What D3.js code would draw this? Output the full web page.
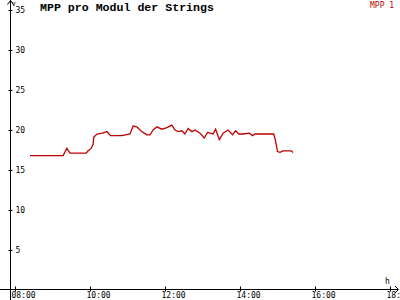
<!DOCTYPE html>
<html>
<head>
<meta charset="utf-8">
<script src="https://cdn.jsdelivr.net/npm/d3@7"></script>
<style>
  body { margin: 0; background: #fff; }
  text { font-family: "DejaVu Sans Mono", monospace; }
</style>
</head>
<body>
<div id="chart"></div>
<script>
// data
var times = ["08:24","09:17","09:23","09:28","09:54","09:57","10:02","10:05","10:06","10:11",
  "10:20","10:27","10:33","10:51","11:04","11:09","11:15","11:20","11:25","11:31",
  "11:36","11:41","11:47","11:55","12:03","12:11","12:16","12:21","12:27","12:32",
  "12:37","12:43","12:48","12:56","13:03","13:08","13:17","13:21","13:27","13:33",
  "13:41","13:48","13:53","13:58","14:05","14:15","14:20","14:24","14:54","14:57",
  "15:00","15:04","15:09","15:22","15:25"];
var mpp1 = [16.8,16.8,17.7,17.1,17.1,17.4,17.7,18.2,19.1,19.5,
  19.6,19.8,19.3,19.3,19.5,20.5,20.4,20.0,19.7,19.4,
  19.4,20.0,20.4,20.1,20.3,20.6,20.0,19.8,19.9,19.5,
  20.2,19.8,20.0,19.6,19.0,19.7,19.5,20.1,18.8,19.6,
  20.0,19.4,19.9,19.5,19.5,19.6,19.3,19.5,19.5,18.6,
  17.3,17.2,17.4,17.4,17.2];
var yTicks = [5, 10, 15, 20, 25, 30, 35];
var xTicks = ["08:00","10:00","12:00","14:00","16:00","18:00"];
var title = "MPP pro Modul der Strings";
var seriesName = "MPP 1";

var width = 400, height = 300;
var parse = d3.timeParse("%H:%M");

var svg = d3.select("#chart")
  .append("svg")
    .attr("width", width)
    .attr("height", height);

var x = d3.scaleTime()
  .domain([parse("08:00"), parse("18:00")])
  .range([15, 390]);

var y = d3.scaleLinear()
  .domain([0, 35])
  .range([290, 10]);

// axis lines with arrows
svg.append("line")
  .attr("x1", 10.5).attr("x2", 10.5)
  .attr("y1", 0).attr("y2", height)
  .attr("stroke", "#000");
svg.append("path")
  .attr("d", "M7.5,4.5L10.5,0.5L13.5,4.5")
  .attr("fill", "none").attr("stroke", "#000");
svg.append("line")
  .attr("x1", 0).attr("x2", 398)
  .attr("y1", y(0) - 0.5).attr("y2", y(0) - 0.5)
  .attr("stroke", "#000");
svg.append("path")
  .attr("d", "M395,286L398.5,289.5L395,293")
  .attr("fill", "none").attr("stroke", "#000");

// y axis
var gy = svg.append("g")
  .attr("transform", "translate(10.5,0)")
  .call(d3.axisRight(y).tickValues(yTicks).tickSize(2).tickPadding(3));
gy.select(".domain").remove();
gy.selectAll(".tick line").attr("x1", -2).attr("stroke", "#000");
gy.selectAll(".tick text")
  .attr("font-family", "DejaVu Sans Mono")
  .attr("font-size", 8)
  .attr("fill", "#000");

// x axis
var gx = svg.append("g")
  .attr("transform", "translate(0," + (y(0) - 0.5) + ")")
  .call(d3.axisBottom(x)
    .tickValues(xTicks.map(parse))
    .tickFormat(d3.timeFormat("%H:%M"))
    .tickSize(2).tickPadding(1));
gx.select(".domain").remove();
gx.selectAll(".tick line").attr("y1", -3).attr("stroke", "#000");
gx.selectAll(".tick text")
  .attr("font-family", "DejaVu Sans Mono")
  .attr("font-size", 8)
  .attr("text-anchor", "start")
  .attr("x", -4)
  .attr("fill", "#000");

// unit labels
svg.append("text")
  .attr("x", 12).attr("y", 6)
  .attr("font-size", 6)
  .text("V");
svg.append("text")
  .attr("x", 385).attr("y", 284)
  .attr("font-size", 8)
  .text("h");

// title and legend
svg.append("text")
  .attr("x", 40).attr("y", 11)
  .style("font-family", "Liberation Mono")
  .attr("font-weight", "bold")
  .attr("font-size", 11.6)
  .text(title);
svg.append("text")
  .attr("x", 370).attr("y", 8)
  .attr("font-size", 8)
  .attr("fill", "#c00000")
  .text(seriesName);

// the line
var line = d3.line()
  .x(function (d, i) { return x(parse(times[i])); })
  .y(function (d) { return y(d); });

svg.append("path")
  .datum(mpp1)
  .attr("fill", "none")
  .attr("stroke", "#c00000")
  .attr("stroke-width", 1.3)
  .attr("d", line);
</script>
</body>
</html>
